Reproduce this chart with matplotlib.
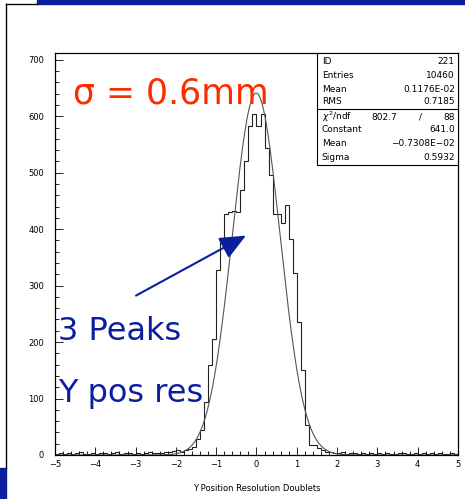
import numpy as np
import matplotlib
matplotlib.use('Agg')
import matplotlib.pyplot as plt
from matplotlib.patches import Rectangle
from matplotlib.lines import Line2D

# histogram: 100 bins from -5 to 5
bin_edges = np.linspace(-5, 5, 101)
counts = [2, 3, 1, 4, 2, 3, 5, 2, 1, 3,
          2, 4, 3, 1, 3, 5, 2, 3, 4, 2,
          3, 2, 4, 5, 3, 4, 3, 5, 6, 7,
          8, 6, 9, 10, 15, 28, 44, 94, 160, 206,
          328, 383, 427, 430, 432, 430, 470, 520, 582, 604,
          583, 604, 544, 496, 427, 427, 411, 443, 383, 323,
          236, 151, 53, 18, 18, 12, 8, 6, 5, 4,
          3, 5, 2, 4, 3, 2, 4, 1, 3, 2,
          4, 2, 3, 1, 2, 4, 3, 2, 1, 3,
          2, 4, 1, 3, 2, 3, 1, 2, 3, 2]

# gaussian fit parameters
fit_const = 641.0
fit_mean = -0.7308e-02
fit_sigma = 0.5932

stat_rows = [('ID', '221'), ('Entries', '10460'), ('Mean', '0.1176E-02'), ('RMS', '0.7185')]
fit_rows = [('Constant', '641.0'), ('Mean', '\u22120.7308E\u221202'), ('Sigma', '0.5932')]

blue = '#0b1f9e'

fig = plt.figure(figsize=(4.65, 4.99), dpi=100)

# slide decorations
fig.patches.append(Rectangle((37 / 465, 1 - 4 / 499), 1, 4 / 499, transform=fig.transFigure,
                             color=blue, zorder=0))
fig.patches.append(Rectangle((0, 0), 6 / 465, 31 / 499, transform=fig.transFigure,
                             color=blue, zorder=0))
fig.lines.append(Line2D([6 / 465, 6 / 465], [31 / 499, 1 - 4 / 499], transform=fig.transFigure,
                        color='black', lw=1.0))
fig.lines.append(Line2D([6 / 465, 37 / 465], [1 - 4 / 499, 1 - 4 / 499], transform=fig.transFigure,
                        color='black', lw=1.0))

ax = fig.add_axes([55 / 465, 44 / 499, 403 / 465, 402 / 499])
ax.stairs(counts, bin_edges, color='#222222', lw=0.8)

xf = np.linspace(-5, 5, 600)
yf = fit_const * np.exp(-0.5 * ((xf - fit_mean) / fit_sigma) ** 2)
ax.plot(xf, yf, color='#555555', lw=0.8)

ax.set_xlim(-5, 5)
ax.set_ylim(0, 712)
ax.set_xticks(np.arange(-5, 6, 1))
ax.set_xticks(np.arange(-5, 5.01, 0.2), minor=True)
ax.set_yticks(np.arange(0, 701, 100))
ax.set_yticks(np.arange(0, 701, 20), minor=True)
ax.set_xticklabels([str(v).replace('-', '\u2212') for v in range(-5, 6)])
ax.tick_params(which='both', direction='in', top=False, right=False, labelsize=6, width=0.6)
ax.tick_params(which='major', length=6)
ax.tick_params(which='minor', length=3)
ax.tick_params(axis='y', pad=8)
for s in ax.spines.values():
    s.set_linewidth(0.9)
ax.set_xlabel('Y Position Resolution Doublets', fontsize=6, labelpad=11)

# stats box
ax.add_patch(Rectangle((0.649, 0.721), 0.351, 0.279, transform=ax.transAxes,
                       facecolor='white', edgecolor='black', lw=0.8, zorder=5))
ax.add_line(Line2D([0.649, 1.0], [0.861, 0.861], transform=ax.transAxes, color='black', lw=0.8, zorder=6))
row_y = [(455 - y) / 402 for y in (62, 75, 89, 102, 117, 130, 144, 157)]
for (k, v), y in zip(stat_rows, row_y[:4]):
    ax.text(0.662, y, k, transform=ax.transAxes, fontsize=6.5, va='center', zorder=7)
    ax.text(0.992, y, v, transform=ax.transAxes, fontsize=6.5, va='center', ha='right', zorder=7)
ax.text(0.662, row_y[4], '$\\chi^2$/ndf', transform=ax.transAxes, fontsize=6.5, va='center', zorder=7)
ax.text(0.848, row_y[4], '802.7', transform=ax.transAxes, fontsize=6.5, va='center', ha='right', zorder=7)
ax.text(0.906, row_y[4], '/', transform=ax.transAxes, fontsize=6.5, va='center', ha='center', zorder=7)
ax.text(0.992, row_y[4], '88', transform=ax.transAxes, fontsize=6.5, va='center', ha='right', zorder=7)
for (k, v), y in zip(fit_rows, row_y[5:]):
    ax.text(0.662, y, k, transform=ax.transAxes, fontsize=6.5, va='center', zorder=7)
    ax.text(0.992, y, v, transform=ax.transAxes, fontsize=6.5, va='center', ha='right', zorder=7)

# annotations
ax.text(-4.55, 623, '\u03c3 = 0.6mm', color='#ff2a00', fontsize=25, va='baseline', zorder=8)
ax.text(-4.93, 204, '3 Peaks', color=blue, fontsize=23, va='baseline', zorder=8)
ax.text(-4.93, 94, 'Y pos res', color=blue, fontsize=23, va='baseline', zorder=8)
ax.annotate('', xy=(-0.2, 391), xytext=(-3.05, 280),
            arrowprops=dict(arrowstyle='-|>,head_length=1.6,head_width=0.7', color=blue, lw=1.5),
            zorder=8)

fig.savefig('out.png', dpi=100)
